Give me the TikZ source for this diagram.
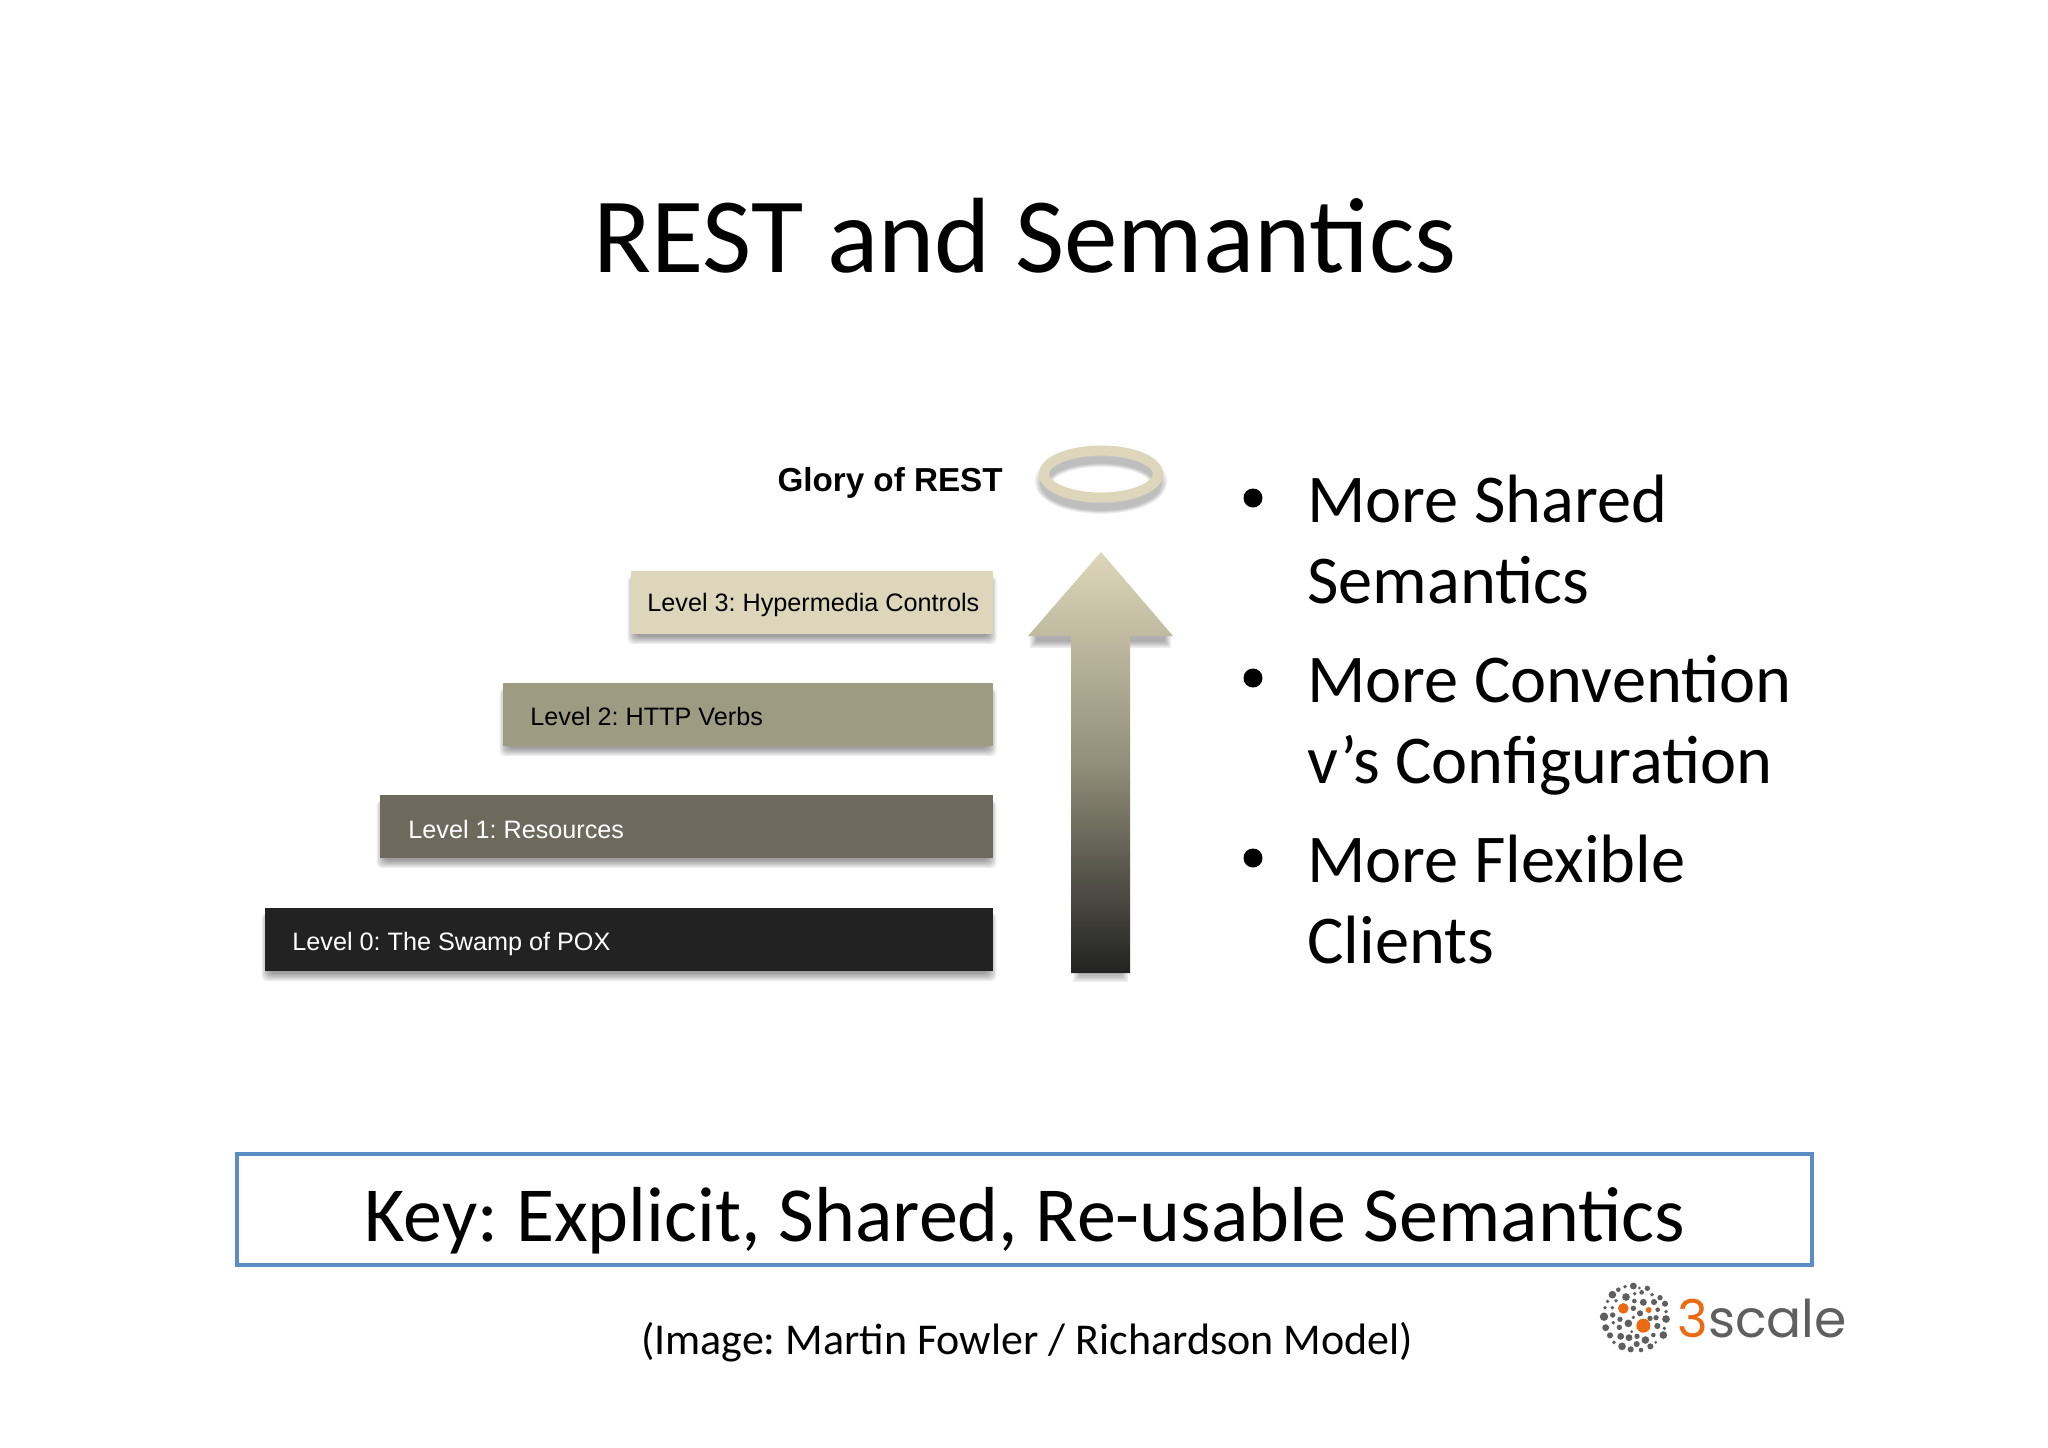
\documentclass[tikz,border=0pt]{standalone}
\usepackage{fontspec}
\setmainfont{Carlito}
\newfontfamily\helv{Liberation Sans}
\newfontfamily\logofont{Poppins}
\usetikzlibrary{shapes.geometric}
\definecolor{keyblue}{HTML}{5B8CC4}
\definecolor{lthree}{HTML}{DDD6BA}
\definecolor{ltwo}{HTML}{9E9B83}
\definecolor{lone}{HTML}{6D6A5D}
\definecolor{lzero}{HTML}{222222}
\definecolor{logogrey}{HTML}{5F5F5F}
\definecolor{logoorange}{HTML}{EA6B12}
\newcommand{\softrect}[4]{%
  \foreach \s in {0,1.5,...,7.5}{%
    \fill[black,opacity=0.075,rounded corners=3] (#1+\s-3.5,#2+5) rectangle (#3-\s+3.5,#4+10-\s);
  }}
\tikzset{
  x=0.5pt,y=-0.5pt,
  level/.style={anchor=north east,minimum width=#1*0.5pt,minimum height=31.25pt,inner sep=0pt,outer sep=0pt},
  leveltext/.style={font=\helv\fontsize{12.6}{15}\selectfont,anchor=west,inner sep=0pt},
  bullettext/.style={anchor=base west,inner sep=0pt,font=\fontsize{34.2}{37}\selectfont,text=black},
  bulletdot/.style={anchor=center,inner sep=0pt,circle,fill=black,minimum size=9.5pt},
}
\begin{document}
\frenchspacing
\begin{tikzpicture}
\useasboundingbox (0,0) rectangle (2048,1447);
\fill[white] (0,0) rectangle (2048,1447);
\node[anchor=base,inner sep=0pt,font=\fontsize{53.5}{56}\selectfont] (title) at (1025,272) {REST and Semantics};
% levels
\softrect{631}{571}{993}{634}
\softrect{503}{683}{993}{746}
\softrect{380}{795}{993}{858}
\softrect{265}{908}{993}{971}
\node[level=362,fill=lthree] (l3) at (993,571) {};
\node[level=490,fill=ltwo] (l2) at (993,683) {};
\node[level=613,fill=lone] (l1) at (993,795) {};
\node[level=728,fill=lzero] (l0) at (993,908) {};
\node[leveltext,text=black] (t3) at (647,605) {Level 3: Hypermedia Controls};
\node[leveltext,text=black] (t2) at (530,716) {Level 2: HTTP Verbs};
\node[leveltext,text=white] (t1) at (408,829) {Level 1: Resources};
\node[leveltext,text=white] (t0) at (292,944) {Level 0: The Swamp of POX};
\node[anchor=east,inner sep=0pt,font=\helv\bfseries\fontsize{16.6}{20}\selectfont,text=black] (glory) at (1003,483) {Glory of REST};
% halo
\foreach \s in {0,1,...,6}{%
  \draw[black,opacity=0.04,line width=(19-\s*2)*0.5pt] (1101,481+\s*0.4) ellipse [x radius=57,y radius=23.5];
}
\draw[lthree,line width=5pt] (1101,474) ellipse [x radius=57,y radius=23.5];
% arrow
\foreach \s in {0,1.5,...,6}{%
  \fill[black,opacity=0.07] (1030+\s,636) -- (1171-\s,636) -- (1171-\s,644+4-\s) -- (1130,644+4-\s) -- (1130,636) -- (1071,636) -- (1071,644+4-\s) -- (1030+\s,644+4-\s) -- cycle;
  \fill[black,opacity=0.06] (1073+\s,970) rectangle (1128-\s,982-\s);
}
\shade[top color=lthree,bottom color=lzero,middle color=ltwo!75!lone,shading angle=0]
  (1101,552) -- (1173,636) -- (1130,636) -- (1130,973) -- (1071,973) -- (1071,636) -- (1028,636) -- cycle;
% bullets
\foreach \n/\yy in {b1/498,b2/678,b3/858}{\node[bulletdot] (\n) at (1253,\yy) {};}
\node[bullettext] (s1) at (1307,522) {More Shared};
\node[bullettext] (s2) at (1307,603) {Semantics};
\node[bullettext] (s3) at (1307,702) {More Convention};
\node[bullettext] (s4) at (1307,783) {v’s Configuration};
\node[bullettext] (s5) at (1307,882) {More Flexible};
\node[bullettext] (s6) at (1307,963) {Clients};
% key box
\node[draw=keyblue,line width=2pt,anchor=north west,minimum width=787.5pt,minimum height=55.5pt,inner sep=0pt] (keybox) at (235,1152) {};
\node[anchor=base,inner sep=0pt,font=\fontsize{39}{42}\selectfont] (key) at (1025,1241) {Key: Explicit, Shared, Re-usable Semantics};
\node[anchor=base,inner sep=0pt,font=\fontsize{22}{25}\selectfont] (cap) at (1027,1354) {(Image: Martin Fowler / Richardson Model)};
% logo
\begin{scope}[shift={(1560,1260)},x=0.16667pt,y=-0.16667pt]
\foreach \a/\b/\r in {220/78/9,195/80/5,238/84/4,262/85/7,175/89/6,245/97/6,224/101/5,276/104/5,157/104/10,198/111/10,300/113/7,223/123/6,250/127/9,282/126/8,143/124/5,168/122/5,315/131/8,135/143/5,157/143/5,220/145/7,293/149/6,318/155/5,240/160/8,132/170/11,158/165/7,270/175/7,288/173/7,220/172/5,180/178/7,318/177/10,160/188/5,205/190/10,292/198/8,137/203/9,178/202/7,313/205/5,215/215/4,150/226/8,182/229/9,207/233/9,231/229/7,280/225/6,310/225/10,256/240/10,162/247/5,230/252/8,186/259/10,212/268/8,243/270/6,271/259/8,287/247/4}{%
  \fill[logogrey] (\a,\b) circle [radius=\r*1.15];
}
\foreach \a/\b/\r in {190/145/16,266/150/9,250/197/21}{%
  \fill[logoorange] (\a,\b) circle [radius=\r];
}
\end{scope}
\node[anchor=base west,inner sep=0pt,font=\logofont\fontsize{26}{28}\selectfont,text=logogrey] (logo) at (1677,1337) {\textcolor{logoorange}{3}scale};
\end{tikzpicture}
\end{document}
